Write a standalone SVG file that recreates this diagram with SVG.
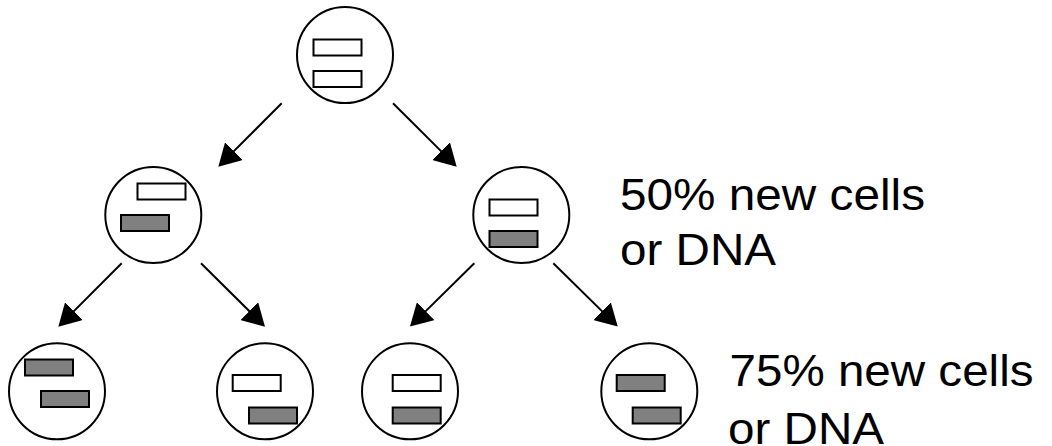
<svg xmlns="http://www.w3.org/2000/svg" width="1052" height="446" viewBox="0 0 1052 446">
<style>
.cell{fill:#fff;stroke:#000;stroke-width:2}
.w{fill:#fff;stroke:#000;stroke-width:2}
.g{fill:#808080;stroke:#000;stroke-width:2}
.conn{stroke:#000;stroke-width:2;fill:none}
.lbl{font-family:"Liberation Sans",Arial,sans-serif;font-size:45px;fill:#000}
</style>
<defs>
<marker id="ah" markerUnits="userSpaceOnUse" markerWidth="22" markerHeight="25" refX="12" refY="12.5" orient="auto" viewBox="0 0 22 25">
<path d="M0,0 L22,12.5 L0,25 z" fill="#000"/>
</marker>
</defs>
<rect width="1052" height="446" fill="#fff"/>
<g id="connectors">
<line class="conn" x1="281.7" y1="103.3" x2="225.4" y2="159.6" marker-end="url(#ah)"/>
<line class="conn" x1="393" y1="103.3" x2="449.6" y2="159.6" marker-end="url(#ah)"/>
<line class="conn" x1="121.7" y1="263.3" x2="65.4" y2="319.6" marker-end="url(#ah)"/>
<line class="conn" x1="201" y1="263.3" x2="257.9" y2="319.6" marker-end="url(#ah)"/>
<line class="conn" x1="474.3" y1="263.3" x2="417.1" y2="319.6" marker-end="url(#ah)"/>
<line class="conn" x1="553.3" y1="263.3" x2="610.6" y2="319.6" marker-end="url(#ah)"/>
</g>
<g id="node-top">
<circle class="cell" cx="345" cy="55" r="48"/>
<rect class="w" x="313.5" y="39.5" width="48" height="16"/>
<rect class="w" x="313.5" y="71" width="48" height="16"/>
</g>
<g id="node-mid-left">
<circle class="cell" cx="153.3" cy="215" r="48"/>
<rect class="w" x="137.5" y="183.5" width="48" height="16"/>
<rect class="g" x="121" y="215" width="48" height="16"/>
</g>
<g id="node-mid-right">
<circle class="cell" cx="521.3" cy="215" r="48"/>
<rect class="w" x="489.5" y="199.5" width="48" height="16"/>
<rect class="g" x="489.5" y="231" width="48" height="16"/>
</g>
<g id="node-bot-1">
<circle class="cell" cx="57" cy="391.3" r="48"/>
<rect class="g" x="25" y="359.5" width="48" height="16"/>
<rect class="g" x="41" y="391" width="48" height="16"/>
</g>
<g id="node-bot-2">
<circle class="cell" cx="265" cy="391.3" r="48"/>
<rect class="w" x="232.7" y="375" width="48" height="16"/>
<rect class="g" x="249" y="407.5" width="48" height="16"/>
</g>
<g id="node-bot-3">
<circle class="cell" cx="410" cy="391.3" r="48"/>
<rect class="w" x="392.7" y="375" width="48" height="16"/>
<rect class="g" x="392.7" y="407.5" width="48" height="16"/>
</g>
<g id="node-bot-4">
<circle class="cell" cx="649.3" cy="391.3" r="48"/>
<rect class="g" x="616.7" y="375" width="48" height="16"/>
<rect class="g" x="632.7" y="407.5" width="48" height="16"/>
</g>
<g id="label-50">
<text class="lbl" x="620" y="209.5" textLength="305" lengthAdjust="spacingAndGlyphs">50% new cells</text>
<text class="lbl" x="620" y="265" textLength="156" lengthAdjust="spacingAndGlyphs">or DNA</text>
</g>
<g id="label-75">
<text class="lbl" x="729.5" y="385.7" textLength="304" lengthAdjust="spacingAndGlyphs">75% new cells</text>
<text class="lbl" x="728" y="444" textLength="156" lengthAdjust="spacingAndGlyphs">or DNA</text>
</g>
</svg>
